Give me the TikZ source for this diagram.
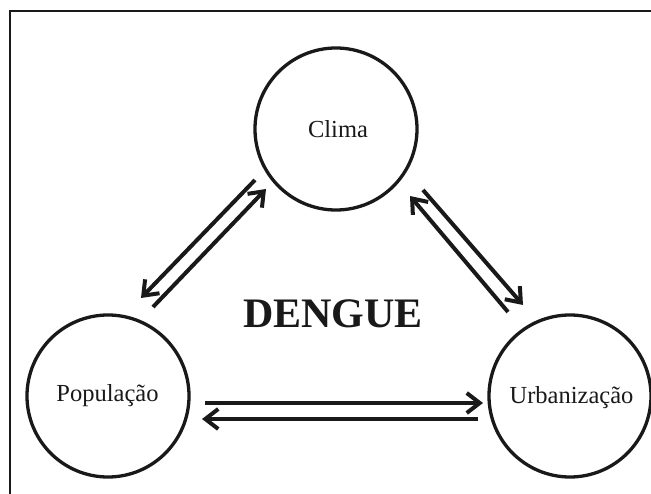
\documentclass[tikz,border=0pt]{standalone}
\usepackage{fontspec}
\setmainfont{Liberation Serif}
\usetikzlibrary{arrows.meta}
\colorlet{ink}{black!90}
\begin{document}
\begin{tikzpicture}[x=1pt,y=-1pt,
  ring/.style={circle,draw=ink,line width=3.3pt,minimum size=162pt,inner sep=0pt},
  lbl/.style={font=\fontsize{24.5}{28}\selectfont,text=ink,inner sep=0pt,anchor=base},
  arr/.style={draw=ink,line width=4pt,-{Straight Barb[length=13pt,width=20pt]}},
  framelines/.style={draw=ink,line width=2.5pt}]
\useasboundingbox (0,0) rectangle (651,494);
\fill[white] (0,0) rectangle (651,494);
\draw[framelines] (10,494) -- (10,11) -- (651,11);
% circles
\node[ring] (clima) at (336,129) {};
\node[ring] (pop) at (108,396) {};
\node[ring] (urb) at (570,396) {};
% labels
\node[lbl] (tclima) at (338,138) {Clima};
\node[lbl] (tpop) at (107.5,402) {População};
\node[lbl] (turb) at (571.5,403) {Urbanização};
\node[text=ink,inner sep=0pt,anchor=base,font=\bfseries\fontsize{42}{46}\selectfont] (dengue) at (333,328) {DENGUE};
% arrow end points
\coordinate (a1) at (255,180); \coordinate (a2) at (141,298);
\coordinate (b1) at (153,307); \coordinate (b2) at (266,189);
\coordinate (c1) at (508,312); \coordinate (c2) at (410,196);
\coordinate (d1) at (423,190); \coordinate (d2) at (523,305);
\coordinate (e1) at (205,403); \coordinate (e2) at (483,403);
\coordinate (f1) at (478,419); \coordinate (f2) at (202,419);
\draw[arr] (a1) -- (a2);
\draw[arr] (b1) -- (b2);
\draw[arr] (c1) -- (c2);
\draw[arr] (d1) -- (d2);
\draw[arr] (e1) -- (e2);
\draw[arr] (f1) -- (f2);
\end{tikzpicture}
\end{document}
